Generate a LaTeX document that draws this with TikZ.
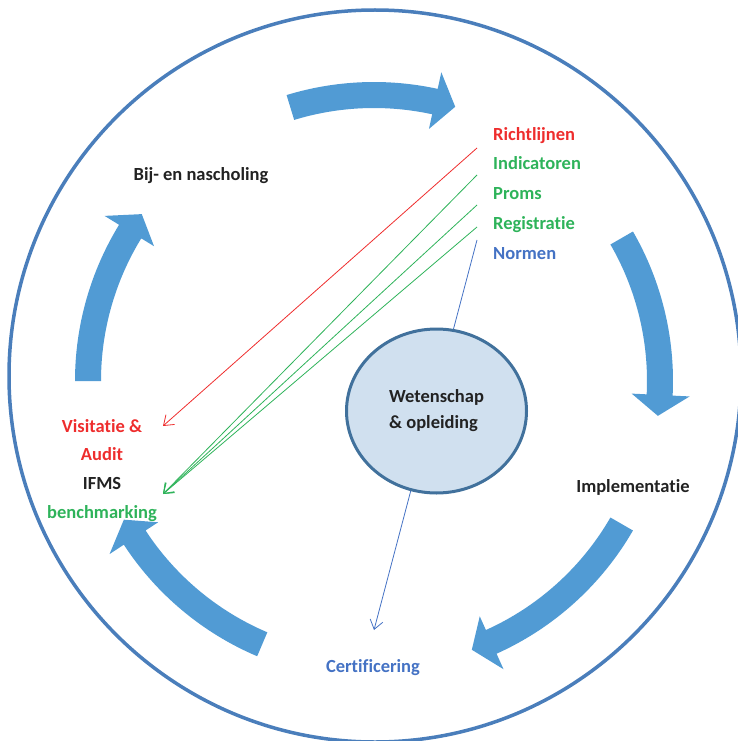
\documentclass[tikz,border=0pt]{standalone}
\usepackage{fontspec}
\setmainfont{Carlito}[Ligatures=NoCommon, RawFeature={-liga;-clig}]
\usetikzlibrary{shapes.geometric, arrows.meta}
\usetikzlibrary{positioning}

\definecolor{ringblue}{HTML}{4A7EBB}
\definecolor{flowblue}{HTML}{519BD4}
\definecolor{hubfill}{HTML}{D0E0EF}
\definecolor{hubedge}{HTML}{41719C}
\definecolor{lblred}{HTML}{EE2D2D}
\definecolor{lblgreen}{HTML}{2EB35A}
\definecolor{lblblue}{HTML}{4472C4}
\definecolor{lblblack}{HTML}{222222}

\tikzstyle{lbl} = [font=\bfseries\fontsize{18.5}{22}\selectfont, inner sep=0pt,
text height=13pt, text depth=4pt]
\tikzstyle{hub} = [ellipse, draw=hubedge, line width=3pt, fill=hubfill, minimum
width=180pt, minimum height=164pt, align=left, text=lblblack,
font=\bfseries\fontsize{18.5}{26}\selectfont]
\tikzstyle{link} = [line width=0.8pt, -{Straight Barb[length=9pt,width=13pt]}]

% curved flow arrow on the cycle: #1 = tail angle, #2 = tip angle
\newcommand{\flowarrow}[2]{%
  \fill[flowblue] (#1:299) arc[start angle=#1, end angle={#2+4.2}, radius=299]
    -- ({#2+4.2}:316) -- (#2:286) -- ({#2+4.2}:258) -- ({#2+4.2}:273)
    arc[start angle={#2+4.2}, end angle=#1, radius=273] -- cycle;}

\begin{document}
\begin{tikzpicture}[x=1pt, y=-1pt]
  \useasboundingbox (0,0) rectangle (737,741);

  % outer ring
  \draw[ringblue, line width=3.5pt] (375,376) circle[radius=366];

  % the five arrows of the cycle
  \begin{scope}[shift={(374,381)}, yscale=-1]
    \flowarrow{107}{73.5}
    \flowarrow{30}{-7}
    \flowarrow{-30}{-70}
    \flowarrow{-113}{-151}
    \flowarrow{180}{144.3}
  \end{scope}

  % labels
  \node (richt) [lbl, lblred, anchor=west] at (493,135.5) {Richtlijnen};
  \node (indic) [lbl, lblgreen, below=12.5pt of richt.south west, anchor=north west] {Indicatoren};
  \node (proms) [lbl, lblgreen, below=12.5pt of indic.south west, anchor=north west] {Proms};
  \node (regis) [lbl, lblgreen, below=12.5pt of proms.south west, anchor=north west] {Registratie};
  \node (normen) [lbl, lblblue, below=12.5pt of regis.south west, anchor=north west] {Normen};

  \node (visit) [lbl, lblred] at (102,427.5) {Visitatie \&};
  \node (audit) [lbl, lblred, below=11.5pt of visit] {Audit};
  \node (ifms) [lbl, lblblack, below=11.5pt of audit] {IFMS};
  \node (bench) [lbl, lblgreen, below=11.5pt of ifms] {benchmarking};

  \node (nascholing) [lbl, lblblack] at (201,175.5) {Bij- en nascholing};
  \node (implement) [lbl, lblblack] at (633,487.5) {Implementatie};
  \node (certif) [lbl, lblblue] at (373,667.5) {Certificering};

  % line ends
  \coordinate (richt-end) at (477,148);
  \coordinate (indic-end) at (477,175);
  \coordinate (proms-end) at (477,205);
  \coordinate (regis-end) at (477,227);
  \coordinate (normen-end) at (477,240);
  \coordinate (audit-tip) at (163,426);
  \coordinate (bench-tip) at (163,494);
  \coordinate (certif-tip) at (374,630);

  \draw[link, lblred] (richt-end) -- (audit-tip);
  \draw[link, lblgreen] (indic-end) -- (bench-tip);
  \draw[link, lblgreen] (proms-end) -- (bench-tip);
  \draw[link, lblgreen] (regis-end) -- (bench-tip);
  \draw[link, lblblue] (normen-end) -- (certif-tip);

  % centre
  \node (hub) [hub] at (436.5,411) {Wetenschap\\\& opleiding};
\end{tikzpicture}
\end{document}
